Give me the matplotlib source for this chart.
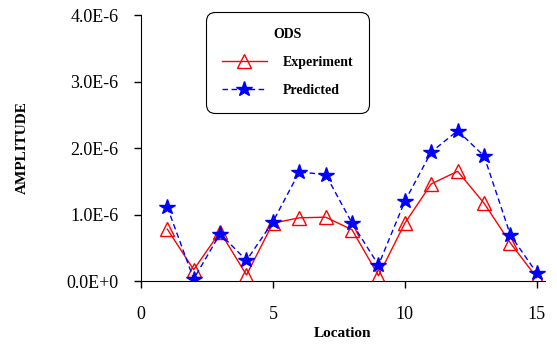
import matplotlib.pyplot as plt
from matplotlib.ticker import FuncFormatter

plt.rcParams['font.family'] = ['Liberation Serif', 'DejaVu Serif']

# データ
location = [1, 2, 3, 4, 5, 6, 7, 8, 9, 10, 11, 12, 13, 14, 15]
experiment = [0.78, 0.17, 0.74, 0.09, 0.87, 0.95, 0.96, 0.77, 0.08, 0.87, 1.46, 1.65, 1.17, 0.57, 0.05]
predicted = [1.11, 0.03, 0.71, 0.31, 0.89, 1.64, 1.60, 0.87, 0.24, 1.20, 1.94, 2.26, 1.88, 0.69, 0.12]
experiment = [v * 1e-6 for v in experiment]
predicted = [v * 1e-6 for v in predicted]

fig = plt.figure(figsize=(5.57, 3.45), dpi=100)
ax = fig.add_axes([0.253, 0.1855, 0.725, 0.771])

ax.plot(location, experiment, color='red', lw=1, marker='^', ms=10,
        mfc='none', mec='red', mew=1, label='Experiment')
ax.plot(location, predicted, color='blue', lw=1, ls=(0, (4, 2.5)), marker='*',
        ms=11.5, mfc='blue', mec='blue', label='Predicted')

ax.set_xlim(0, 15.3)
ax.set_ylim(0, 4e-6)
ax.set_xticks([0, 5, 10, 15])
ax.set_yticks([0, 1e-6, 2e-6, 3e-6, 4e-6])


def fmt(v, pos):
    # 0.0E+0 形式
    if v == 0:
        return '0.0E+0'
    return f'{v * 1e6:.1f}E-6'


ax.yaxis.set_major_formatter(FuncFormatter(fmt))
ax.tick_params(labelsize=13, direction='out', length=5, width=1)
ax.tick_params(axis='x', pad=13)
ax.tick_params(axis='y', pad=11)
for s in ['top', 'right']:
    ax.spines[s].set_visible(False)

ax.set_xlabel('Location', fontsize=11, fontweight='bold', labelpad=3)
ax.set_ylabel('AMPLITUDE', fontsize=11, fontweight='bold', labelpad=27)

leg = fig.legend(loc='upper center', bbox_to_anchor=(0.516, 0.966),
                 title='ODS', fancybox=True, edgecolor='black', framealpha=1,
                 prop={'weight': 'bold', 'size': 10}, handlelength=3.3,
                 handletextpad=1.1, borderpad=1.15, labelspacing=1.1,
                 borderaxespad=0)
leg.get_title().set_fontweight('bold')
leg.get_title().set_fontsize(10)
leg.get_frame().set_linewidth(0.8)
leg.get_frame().set_boxstyle('round', pad=0, rounding_size=0.65)

fig.savefig('out.png', dpi=100)
